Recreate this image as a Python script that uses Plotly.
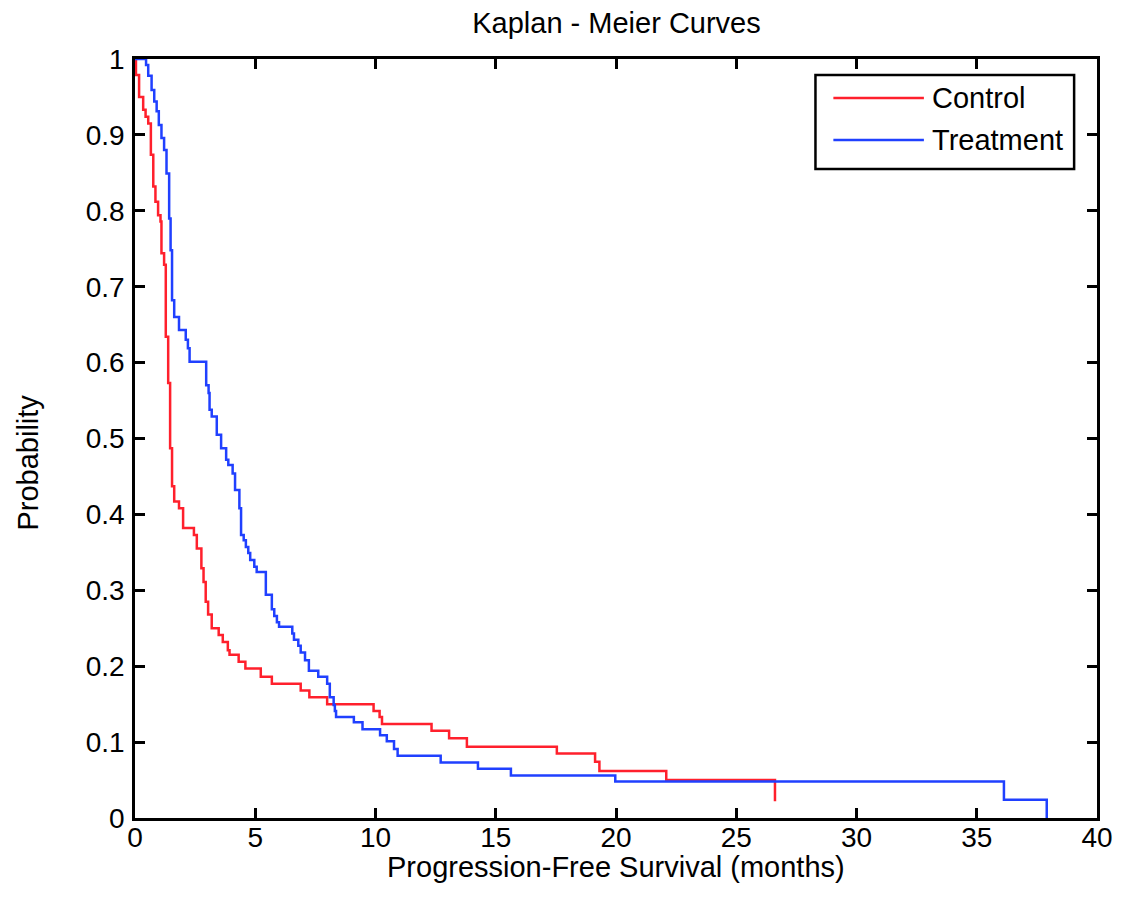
import plotly.graph_objects as go

# ---- Data ----
control_t = [0, 0.04, 0.17, 0.34, 0.44, 0.55, 0.66, 0.76, 0.85, 0.96, 1.06, 1.10, 1.21, 1.28,
             1.38, 1.46, 1.54, 1.63, 1.83, 2.00, 2.45, 2.57, 2.76, 2.85, 2.94, 3.04, 3.19,
             3.48, 3.65, 3.86, 3.93, 4.31, 4.59, 5.23, 5.69, 6.89, 7.25, 7.99, 9.92, 10.17,
             10.27, 12.33, 13.06, 13.80, 17.54, 19.13, 19.31, 22.09, 26.61]
control_s = [1.0, 0.979, 0.950, 0.933, 0.924, 0.915, 0.874, 0.832, 0.812, 0.794, 0.786, 0.744,
             0.729, 0.634, 0.573, 0.487, 0.437, 0.417, 0.408, 0.382, 0.373, 0.355, 0.329, 0.311,
             0.285, 0.268, 0.250, 0.241, 0.232, 0.221, 0.215, 0.206, 0.197, 0.186, 0.177, 0.168,
             0.159, 0.150, 0.141, 0.133, 0.124, 0.115, 0.105, 0.094, 0.085, 0.074, 0.062, 0.050,
             0.022]

treatment_t = [0, 0.46, 0.55, 0.69, 0.80, 0.90, 0.99, 1.10, 1.21, 1.31, 1.42, 1.48, 1.54, 1.63,
               1.83, 2.11, 2.20, 2.27, 2.96, 3.06, 3.10, 3.19, 3.40, 3.58, 3.79, 3.88, 4.06,
               4.16, 4.34, 4.41, 4.52, 4.61, 4.71, 4.79, 4.96, 5.06, 5.44, 5.69, 5.79, 5.90,
               5.99, 6.54, 6.61, 6.79, 6.89, 7.07, 7.23, 7.62, 7.99, 8.10, 8.26, 8.31, 8.36,
               9.10, 9.46, 10.19, 10.47, 10.77, 10.92, 12.71, 14.26, 15.63, 19.97, 36.13, 37.91]
treatment_s = [1.0, 0.992, 0.978, 0.959, 0.944, 0.931, 0.913, 0.896, 0.880, 0.849, 0.790, 0.748,
               0.682, 0.660, 0.643, 0.630, 0.619, 0.601, 0.570, 0.560, 0.538, 0.529, 0.505, 0.487,
               0.472, 0.465, 0.454, 0.432, 0.408, 0.373, 0.366, 0.357, 0.349, 0.340, 0.331, 0.324,
               0.294, 0.275, 0.266, 0.258, 0.252, 0.243, 0.235, 0.227, 0.218, 0.208, 0.194, 0.186,
               0.177, 0.159, 0.149, 0.141, 0.133, 0.126, 0.117, 0.109, 0.101, 0.091, 0.082, 0.073,
               0.065, 0.056, 0.048, 0.024, 0.0]

series_names = ["Control", "Treatment"]
series_colors = ["rgb(255,32,44)", "rgb(32,64,255)"]

x_ticks = [0, 5, 10, 15, 20, 25, 30, 35, 40]
y_ticks = [0, 0.1, 0.2, 0.3, 0.4, 0.5, 0.6, 0.7, 0.8, 0.9, 1]
y_tick_labels = ["0", "0.1", "0.2", "0.3", "0.4", "0.5", "0.6", "0.7", "0.8", "0.9", "1"]

FONT = "Liberation Sans, Arial, Helvetica, sans-serif"

# plot area in screen pixels (page has an 8px body margin)
PL, PR, PT, PB = 135, 1102, 59, 818
PW, PH = PR - PL, PB - PT


def px(xs):
    return (xs - PL) / PW


def py(ys):
    return (PB - ys) / PH


fig = go.Figure()
for t, s, name, col in [(control_t, control_s, series_names[0], series_colors[0]),
                        (treatment_t, treatment_s, series_names[1], series_colors[1])]:
    fig.add_trace(go.Scatter(x=t, y=s, mode="lines", name=name,
                             line=dict(color=col, width=2.5, shape="hv"),
                             showlegend=False))

axis_common = dict(showline=True, linecolor="black", linewidth=2.5, mirror="ticks",
                   ticks="inside", ticklen=10, tickwidth=2.5, tickcolor="black",
                   showgrid=False, zeroline=False,
                   tickfont=dict(family=FONT, size=28, color="black"))

fig.update_xaxes(range=[0, 40], tickvals=x_ticks, ticklabelstandoff=-7, **axis_common)
fig.update_yaxes(range=[0, 1], tickvals=y_ticks, ticktext=y_tick_labels,
                 ticklabelstandoff=2, **axis_common)

# Legend box drawn manually (MATLAB style)
fig.add_shape(type="rect", xref="paper", yref="paper",
              x0=px(819), x1=px(1079), y0=py(169), y1=py(75),
              line=dict(color="black", width=2.5), fillcolor="white")
legend_rows_y = [98, 140]
for name, col, ypx in zip(series_names, series_colors, legend_rows_y):
    fig.add_shape(type="line", xref="paper", yref="paper",
                  x0=px(837), x1=px(928), y0=py(ypx), y1=py(ypx),
                  line=dict(color=col, width=2.5))
    fig.add_annotation(text=name, xref="paper", yref="paper",
                       x=px(934), y=py(ypx), xanchor="left", yanchor="middle",
                       showarrow=False, font=dict(family=FONT, size=29, color="black"))

# Axis titles
fig.add_annotation(text="Progression-Free Survival (months)", xref="paper", yref="paper",
                   x=px(619), y=py(867), xanchor="center", yanchor="middle",
                   showarrow=False, font=dict(family=FONT, size=29, color="black"))
fig.add_annotation(text="Probability", xref="paper", yref="paper",
                   x=px(27), y=py(463), xanchor="center", yanchor="middle",
                   textangle=-90, showarrow=False,
                   font=dict(family=FONT, size=29, color="black"))

W, H = 1117, 891
fig.update_layout(
    width=W, height=H,
    margin=dict(l=PL - 8, r=W - (PR - 8), t=PT - 8, b=H - (PB - 8)),
    paper_bgcolor="white", plot_bgcolor="white",
    title=dict(text="Kaplan - Meier Curves", x=px(619), xref="paper", xanchor="center",
               y=1 - (23 - 8) / H, yanchor="middle",
               font=dict(family=FONT, size=29, color="black")),
    showlegend=False,
)

fig.write_html("out.html")
